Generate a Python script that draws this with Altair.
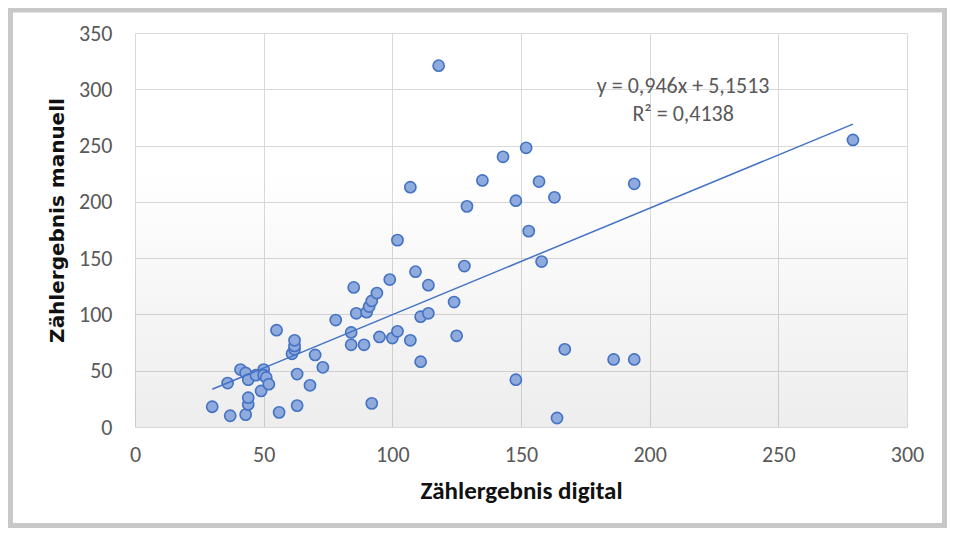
import altair as alt
import pandas as pd

# Digital vs manual counts
digital = [30, 36, 37, 41, 43, 44, 43, 44, 44, 47, 50, 50, 49, 51, 52, 55, 56,
           61, 62, 62, 62, 63, 63, 68, 70, 73, 78, 84, 84, 85, 86, 89, 90, 91,
           92, 94, 92, 95, 99, 100, 102, 102, 107, 107, 109, 111, 111, 114, 114,
           118, 124, 125, 128, 129, 135, 143, 148, 148, 152, 153, 157, 158, 163,
           164, 167, 186, 194, 194, 279]
manuell = [18, 39, 10, 51, 48, 42, 11, 20, 26, 46, 51, 46, 32, 44, 38, 86, 13,
           65, 69, 72, 77, 47, 19, 37, 64, 53, 95, 84, 73, 124, 101, 73, 102, 107,
           112, 119, 21, 80, 131, 79, 85, 166, 77, 213, 138, 98, 58, 101, 126,
           321, 111, 81, 143, 196, 219, 240, 201, 42, 248, 174, 218, 147, 204,
           8, 69, 60, 60, 216, 255]

# Trend line stated on the chart
slope = 0.946
intercept = 5.1513
eq_lines = ["y = 0,946x + 5,1513", "R² = 0,4138"]
eq_x = [213, 213]
eq_y = [303, 278]

pts = pd.DataFrame({"digital": digital, "manuell": manuell})
xs = [min(digital), max(digital)]
trend = pd.DataFrame({"digital": xs, "manuell": [slope * v + intercept for v in xs]})
eq = pd.DataFrame({"digital": eq_x, "manuell": eq_y, "text": eq_lines})

xscale = alt.Scale(domain=[0, 300], nice=False)
yscale = alt.Scale(domain=[0, 350], nice=False)

LABEL_FONT = "Carlito, Lato, sans-serif"

xaxis = alt.Axis(values=[0, 50, 100, 150, 200, 250, 300], title="Zählergebnis digital",
                 grid=True, gridColor="#d9d9d9", domain=False, ticks=False,
                 labelFlush=False, labelOverlap=False,
                 labelFont=LABEL_FONT, labelFontSize=22, labelColor="#595959",
                 labelPadding=17, titleFont=LABEL_FONT, titleFontSize=25,
                 titleFontWeight="bold", titleColor="#111111",
                 titleBaseline="middle", titleY=63)
yaxis = alt.Axis(values=[0, 50, 100, 150, 200, 250, 300, 350], title="Zählergebnis manuell",
                 grid=True, gridColor="#d9d9d9", domain=False, ticks=False,
                 labelFlush=False, labelOverlap=False,
                 labelFont=LABEL_FONT, labelFontSize=22, labelColor="#595959",
                 labelPadding=23, titleFont="DejaVu Sans", titleFontSize=20,
                 titleFontWeight="bold", titleColor="#111111",
                 titleBaseline="middle", titleX=-78, titleY=187)

bg = alt.Chart(pd.DataFrame({"a": [0]})).mark_rect(
    fill={"gradient": "linear", "x1": 0, "y1": 0, "x2": 0, "y2": 1,
          "stops": [{"offset": 0, "color": "rgba(0,0,0,0)"},
                    {"offset": 0.35, "color": "rgba(0,0,0,0)"},
                    {"offset": 1, "color": "rgba(0,0,0,0.07)"}]}
).encode(
    x=alt.value(0), x2=alt.value(772), y=alt.value(0), y2=alt.value(394)
)

points = alt.Chart(pts).mark_circle(
    size=125, color="#8faadc", opacity=1, stroke="#4472c4", strokeWidth=1.6
).encode(
    x=alt.X("digital:Q", scale=xscale, axis=xaxis),
    y=alt.Y("manuell:Q", scale=yscale, axis=yaxis),
)

line = alt.Chart(trend).mark_line(color="#4472c4", strokeWidth=1.5).encode(
    x=alt.X("digital:Q", scale=xscale),
    y=alt.Y("manuell:Q", scale=yscale),
)

label = alt.Chart(eq).mark_text(
    font=LABEL_FONT, fontSize=22, color="#595959", align="center", baseline="middle"
).encode(
    x=alt.X("digital:Q", scale=xscale),
    y=alt.Y("manuell:Q", scale=yscale),
    text="text:N",
)

frame = alt.Chart(pd.DataFrame({"a": [0]})).mark_rect(
    fill=None, stroke="#c8c8c8", strokeWidth=5
).encode(
    x=alt.value(-124.5), x2=alt.value(809.5), y=alt.value(-23), y2=alt.value(492.5)
)

chart = alt.layer(bg, points, line, label, frame).properties(
    width=772, height=394,
    autosize=alt.AutoSizeParams(type="none"),
    padding={"left": 127, "top": 25, "right": 40, "bottom": 101},
    background="white",
).configure_view(
    stroke=None,
)

chart.save("out.html", embed_options={"renderer": "svg", "actions": False})
